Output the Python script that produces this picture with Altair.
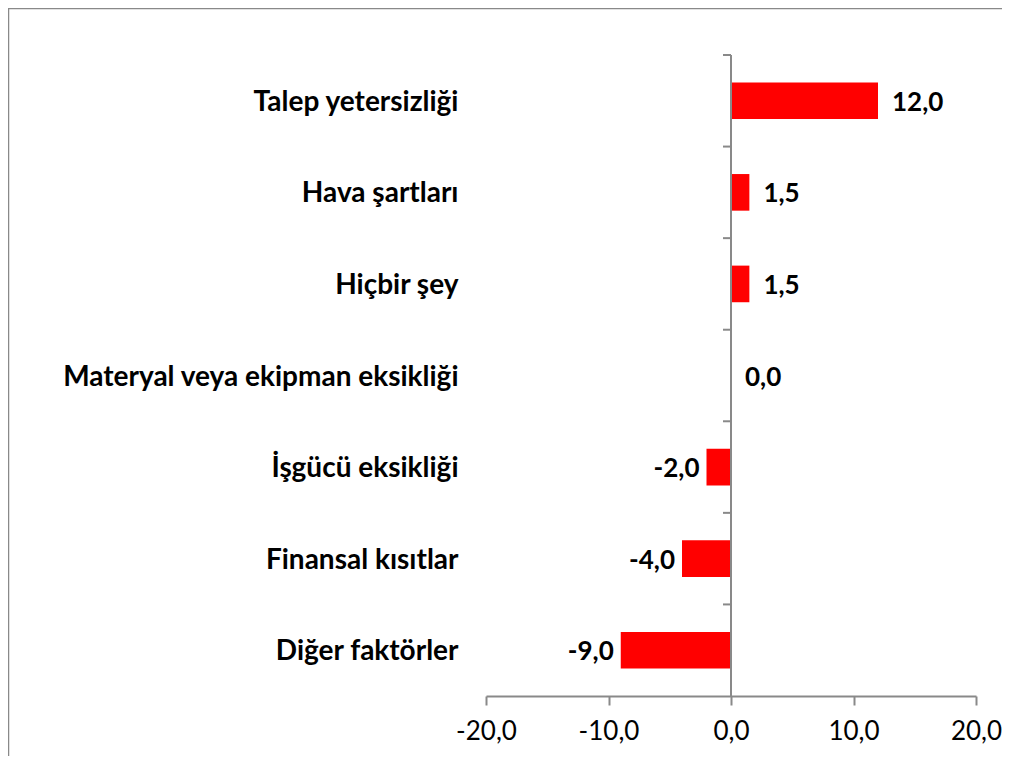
import altair as alt
import pandas as pd

categories = [
    "Talep yetersizliği",
    "Hava şartları",
    "Hiçbir şey",
    "Materyal veya ekipman eksikliği",
    "İşgücü eksikliği",
    "Finansal kısıtlar",
    "Diğer faktörler",
]
values = [12.0, 1.5, 1.5, 0.0, -2.0, -4.0, -9.0]
x_ticks = [-20, -10, 0, 10, 20]

df = pd.DataFrame({"cat": categories, "v": values})

FONT = "Lato"
GRAY = "#898989"

yscale = alt.Scale(domain=categories, paddingInner=0, paddingOuter=0)
xscale = alt.Scale(domain=[-20, 20], nice=False, zero=False)

y_axis = alt.Axis(orient="left", title=None, domain=False, ticks=False, tickSize=0,
                  labelPadding=28, labelOffset=2, labelFont=FONT, labelFontSize=28,
                  labelFontWeight="bold", labelColor="#000000", labelLimit=600)

base = alt.Chart(df).transform_calculate(
    lbl="(datum.v < 0 ? '-' : '') + replace(format(abs(datum.v), '.1f'), '.', ',')"
)

bars = base.mark_bar(color="#FF0000", height=alt.RelativeBandSize(0.4)).encode(
    y=alt.Y("cat:N", scale=yscale, sort=categories, axis=y_axis),
    x=alt.X("v:Q", scale=xscale,
            axis=alt.Axis(title=None, values=x_ticks, grid=False, tickSize=9,
                          domainColor=GRAY, tickColor=GRAY, domainWidth=2, tickWidth=2,
                          labelFont=FONT, labelFontSize=26, labelColor="#000000",
                          labelPadding=13, labelFlush=False,
                          labelExpr="(datum.value < 0 ? '-' : '') + replace(format(abs(datum.value), '.1f'), '.', ',')")),
)

# vertical zero line
zero_line = base.mark_rule(color=GRAY, strokeWidth=2).encode(
    x=alt.datum(0, scale=xscale),
)

# small tick marks at each category boundary, left of the zero line
zero_ticks = base.mark_rule(color=GRAY, strokeWidth=2, xOffset=-8).encode(
    y=alt.Y("cat:N", scale=yscale, sort=categories, bandPosition=0, axis=y_axis),
    x=alt.datum(0, scale=xscale),
    x2=alt.datum(0),
)

pos_text = base.transform_filter("datum.v >= 0").mark_text(
    align="left", baseline="middle", dx=14, dy=2, font=FONT, fontSize=26,
    fontWeight="bold", color="#000000"
).encode(
    y=alt.Y("cat:N", scale=yscale, sort=categories, axis=y_axis),
    x=alt.X("v:Q", scale=xscale),
    text="lbl:N",
)

neg_text = base.transform_filter("datum.v < 0").mark_text(
    align="right", baseline="middle", dx=-7, dy=2, font=FONT, fontSize=26,
    fontWeight="bold", color="#000000"
).encode(
    y=alt.Y("cat:N", scale=yscale, sort=categories, axis=y_axis),
    x=alt.X("v:Q", scale=xscale),
    text="lbl:N",
)

frame = alt.Chart(pd.DataFrame({"a": [0]})).mark_rect(
    filled=False, stroke=GRAY, strokeWidth=1.5
).encode(
    x=alt.value(-477.5), x2=alt.value(800), y=alt.value(-46.5), y2=alt.value(900)
)

chart = alt.layer(frame, bars, zero_line, zero_ticks, pos_text, neg_text).properties(
    width=490, height=641,
    padding={"left": 478, "top": 47, "right": 26, "bottom": 60},
    autosize="none",
).configure_view(stroke=None)

chart.save("out.html", embed_options={"renderer": "svg", "actions": False})
